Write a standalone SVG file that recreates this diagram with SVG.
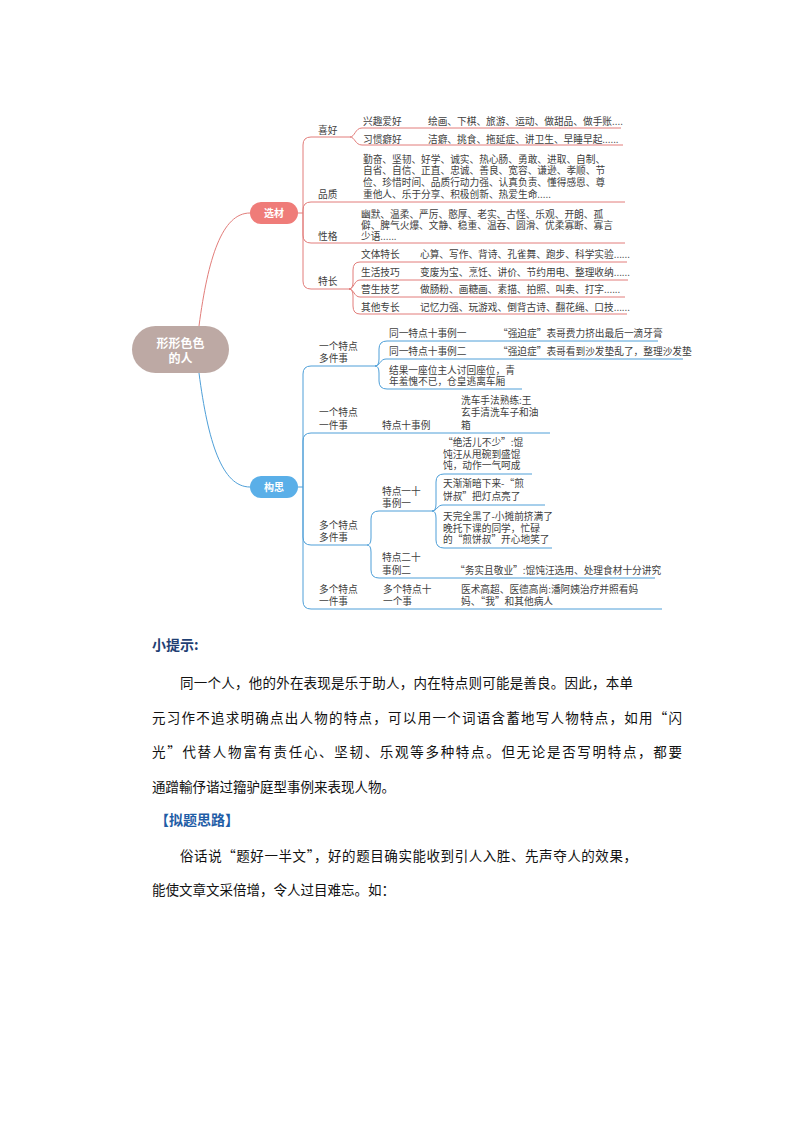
<svg xmlns="http://www.w3.org/2000/svg" width="794" height="1123" viewBox="0 0 794 1123">
<style>
.t{font-family:"Noto Sans CJK SC","Microsoft YaHei",sans-serif;font-size:9.7px;fill:#404040}
.w{font-family:"Noto Sans CJK SC",sans-serif;font-weight:bold;fill:#ffffff;text-anchor:middle}
.r{fill:none;stroke:#E27D7A;stroke-width:1}
.b{fill:none;stroke:#4E9FD8;stroke-width:1}
.p{font-family:"Noto Sans CJK SC",sans-serif;font-size:13.5px;fill:#111111}
.h{font-family:"Noto Sans CJK SC",sans-serif;font-size:14px;font-weight:bold}
</style>
<rect width="794" height="1123" fill="#ffffff"/>
<g id="connectors">
<path class="r" d="M199,326 C208,258 222,213 250,213"/>
<path class="r" d="M298,213 H303"/>
<path class="r" d="M303,213 V145 Q303,137 311,137 H350"/>
<path class="r" d="M350,137 C355,137 355,128 362,128 H621"/>
<path class="r" d="M350,137 C355,137 355,145 362,145 H623"/>
<path class="r" d="M303,213 V210 Q303,202 311,202 H625"/>
<path class="r" d="M303,213 V235 Q303,243 311,243 H625"/>
<path class="r" d="M303,213 V281 Q303,289 311,289 H349"/>
<path class="r" d="M349,289 Q353,289 353,282 V270 Q353,262 360,262 H627"/>
<path class="r" d="M349,289 C354,289 354,280 360,280 H628"/>
<path class="r" d="M349,289 C354,289 354,297 360,297 H625"/>
<path class="r" d="M349,289 Q353,289 353,296 V306 Q353,314 360,314 H627"/>
<path class="b" d="M199,373 C208,442 222,487 250,487"/>
<path class="b" d="M298,487 H303"/>
<path class="b" d="M303,487 V374 Q303,366 311,366 H375"/>
<path class="b" d="M375,366 Q379,366 379,359 V349 Q379,341 387,341 H658"/>
<path class="b" d="M375,366 C380,366 380,359 386,359 H683"/>
<path class="b" d="M375,366 Q379,366 379,373 V381 Q379,389 387,389 H522"/>
<path class="b" d="M303,487 V441 Q303,433 311,433 H550"/>
<path class="b" d="M303,487 V537 Q303,545 311,545 H367"/>
<path class="b" d="M367,545 Q371,545 371,538 V519 Q371,511 379,511 H432"/>
<path class="b" d="M367,545 Q371,545 371,552 V570 Q371,578 379,578 H655"/>
<path class="b" d="M432,511 Q436,511 436,504 V482 Q436,474 444,474 H532"/>
<path class="b" d="M432,511 C437,511 437,505 443,505 H545"/>
<path class="b" d="M432,511 Q436,511 436,518 V540 Q436,548 444,548 H552"/>
<path class="b" d="M303,487 V601 Q303,609 311,609 H662"/>
</g>
<g id="root">
<rect x="132" y="326" width="97" height="47" rx="23.5" fill="#BDA9A4"/>
<text class="w" font-size="12" x="180.5" y="347.5">形形色色</text>
<text class="w" font-size="12" x="180.5" y="362.5">的人</text>
</g>
<g id="xuancai">
<rect x="250" y="202" width="48" height="22" rx="11" fill="#EF7C79"/>
<text class="w" font-size="10" x="274" y="216.5">选材</text>
</g>
<g id="gousi">
<rect x="250" y="476" width="48" height="22" rx="11" fill="#5AAFE8"/>
<text class="w" font-size="10" x="274" y="490.5">构思</text>
</g>
<g id="xihao"><text class="t" x="318" y="133.5">喜好</text></g>
<g id="xingqu"><text class="t" x="363" y="124.5">兴趣爱好</text><text class="t" x="428" y="124.5">绘画、下棋、旅游、运动、做甜品、做手账....</text></g>
<g id="xiguan"><text class="t" x="363" y="142.5">习惯癖好</text><text class="t" x="428" y="142.5">洁癖、挑食、拖延症、讲卫生、早睡早起......</text></g>
<g id="pinzhi">
<text class="t" x="318" y="197.5">品质</text>
<text class="t" x="363" y="162.5">勤奋、坚韧、好学、诚实、热心肠、勇敢、进取、自制、</text>
<text class="t" x="363" y="174">自省、自信、正直、忠诚、善良、宽容、谦逊、孝顺、节</text>
<text class="t" x="363" y="185.5">俭、珍惜时间、品质行动力强、认真负责、懂得感恩、尊</text>
<text class="t" x="363" y="197.5">重他人、乐于分享、积极创新、热爱生命.....</text>
</g>
<g id="xingge">
<text class="t" x="318" y="239.5">性格</text>
<text class="t" x="361" y="217.5">幽默、温柔、严厉、憨厚、老实、古怪、乐观、开朗、孤</text>
<text class="t" x="361" y="228.5">僻、脾气火爆、文静、稳重、温吞、圆滑、优柔寡断、寡言</text>
<text class="t" x="361" y="239.5">少语......</text>
</g>
<g id="techang"><text class="t" x="318" y="284.5">特长</text></g>
<g id="wenti"><text class="t" x="361" y="257.5">文体特长</text><text class="t" x="420" y="257.5">心算、写作、背诗、孔雀舞、跑步、科学实验......</text></g>
<g id="shenghuo"><text class="t" x="361" y="275.5">生活技巧</text><text class="t" x="420" y="275.5">变废为宝、烹饪、讲价、节约用电、整理收纳......</text></g>
<g id="yingsheng"><text class="t" x="361" y="292.5">营生技艺</text><text class="t" x="420" y="292.5">做肠粉、画糖画、素描、拍照、叫卖、打字......</text></g>
<g id="qita"><text class="t" x="361" y="310.5">其他专长</text><text class="t" x="420" y="310.5">记忆力强、玩游戏、倒背古诗、翻花绳、口技......</text></g>
<g id="yiduo"><text class="t" x="319" y="350">一个特点</text><text class="t" x="319" y="362">多件事</text></g>
<g id="li1"><text class="t" x="389" y="336.5">同一特点十事例一</text><text class="t" x="498" y="336.5">“强迫症”表哥费力挤出最后一滴牙膏</text></g>
<g id="li2"><text class="t" x="389" y="355">同一特点十事例二</text><text class="t" x="498" y="355">“强迫症”表哥看到沙发垫乱了，整理沙发垫</text></g>
<g id="jieguo"><text class="t" x="389" y="373.5">结果一座位主人讨回座位，青</text><text class="t" x="389" y="384.5">年羞愧不已，仓皇逃离车厢</text></g>
<g id="yiyi"><text class="t" x="319" y="415.5">一个特点</text><text class="t" x="319" y="428.5">一件事</text></g>
<g id="tdsl"><text class="t" x="382" y="428.5">特点十事例</text></g>
<g id="xiche"><text class="t" x="461" y="403.5">洗车手法熟练:王</text><text class="t" x="461" y="416">玄手清洗车子和油</text><text class="t" x="461" y="428.5">箱</text></g>
<g id="duoduo"><text class="t" x="319" y="528.5">多个特点</text><text class="t" x="319" y="541">多件事</text></g>
<g id="td1"><text class="t" x="382" y="495">特点一十</text><text class="t" x="382" y="507">事例一</text></g>
<g id="juehuo"><text class="t" x="443" y="446">“绝活儿不少”:馄</text><text class="t" x="443" y="457.5">饨汪从甩碗到盛馄</text><text class="t" x="443" y="469">饨，动作一气呵成</text></g>
<g id="jianan"><text class="t" x="443" y="486.5">天渐渐暗下来-“煎</text><text class="t" x="443" y="499.5">饼叔”把灯点亮了</text></g>
<g id="quanhei"><text class="t" x="443" y="520">天完全黑了-小摊前挤满了</text><text class="t" x="443" y="531.5">晚托下课的同学，忙碌</text><text class="t" x="443" y="543">的“煎饼叔”开心地笑了</text></g>
<g id="td2"><text class="t" x="382" y="561">特点二十</text><text class="t" x="382" y="573.5">事例二</text></g>
<g id="wushi"><text class="t" x="455" y="573.5">“务实且敬业”:馄饨汪选用、处理食材十分讲究</text></g>
<g id="duoyi"><text class="t" x="319" y="592.5">多个特点</text><text class="t" x="319" y="605">一件事</text></g>
<g id="duoyige"><text class="t" x="383" y="592.5">多个特点十</text><text class="t" x="383" y="605">一个事</text></g>
<g id="yishu"><text class="t" x="461" y="592.5">医术高超、医德高尚:潘阿姨治疗并照看妈</text><text class="t" x="461" y="605">妈、“我”和其他病人</text></g>
<g id="notes">
<text class="h" x="152" y="650" fill="#1F3F73">小提示:</text>
<text class="p" x="180" y="688" textLength="453" lengthAdjust="spacing">同一个人，他的外在表现是乐于助人，内在特点则可能是善良。因此，本单</text>
<text class="p" x="152" y="723" textLength="530" lengthAdjust="spacing">元习作不追求明确点出人物的特点，可以用一个词语含蓄地写人物特点，如用“闪</text>
<text class="p" x="152" y="757" textLength="530" lengthAdjust="spacing">光”代替人物富有责任心、坚韧、乐观等多种特点。但无论是否写明特点，都要</text>
<text class="p" x="152" y="792">通蹭輸伃谐过籀驴庭型事例来表现人物。</text>
<text class="h" x="155" y="825" fill="#1F5DA6">【拟题思路】</text>
<text class="p" x="180" y="861" textLength="457" lengthAdjust="spacing">俗话说“题好一半文”，好的题目确实能收到引人入胜、先声夺人的效果，</text>
<text class="p" x="152" y="895">能使文章文采倍增，令人过目难忘。如：</text>
</g>
</svg>
